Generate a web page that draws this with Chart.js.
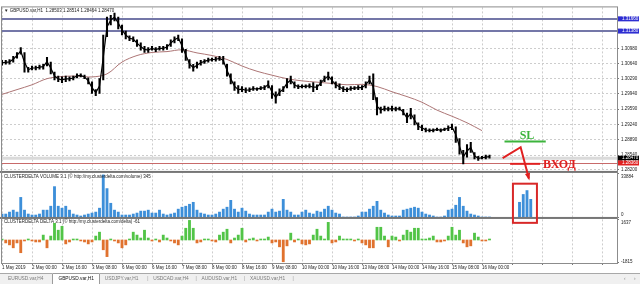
<!DOCTYPE html>
<html>
<head>
<meta charset="utf-8">
<script src="https://cdn.jsdelivr.net/npm/chart.js@4.4.1/dist/chart.umd.min.js"></script>
<style>
  html, body { margin: 0; padding: 0; background: #fff; }
  canvas { display: block; }
</style>
</head>
<body>
<canvas id="grafico" width="640" height="284"></canvas>
<script>
// ---- dados ----
const STEP_H = 2;        // horas por amostra
const MA_STEP_H = 8;     // horas por ponto da media movel
const TICK_STEP_H = 16;  // horas entre rotulos do eixo de tempo
const X_MAX_H = 328;

const tickLabels = ['1 May 2019', '2 May 00:00', '2 May 16:00', '3 May 08:00', '6 May 00:00', '6 May 16:00',
  '7 May 08:00', '8 May 00:00', '8 May 16:00', '9 May 08:00', '10 May 00:00', '10 May 16:00',
  '13 May 08:00', '14 May 00:00', '14 May 16:00', '15 May 08:00', '16 May 00:00'];

const priceTicks = [1.3098, 1.3064, 1.3029, 1.2994, 1.2959, 1.2924, 1.2889, 1.2854, 1.2820];

const priceHigh = [
  1.3071, 1.3071, 1.3073, 1.3080, 1.3089, 1.3100, 1.3089, 1.3055, 1.3058, 1.3058,
  1.3060, 1.3062, 1.3078, 1.3067, 1.3044, 1.3035, 1.3033, 1.3035, 1.3033, 1.3035,
  1.3040, 1.3040, 1.3037, 1.3031, 1.3022, 1.3004, 1.3029, 1.3129, 1.3170, 1.3174,
  1.3179, 1.3170, 1.3152, 1.3138, 1.3127, 1.3125, 1.3118, 1.3111, 1.3103, 1.3100,
  1.3103, 1.3100, 1.3103, 1.3103, 1.3107, 1.3118, 1.3125, 1.3129, 1.3120, 1.3096,
  1.3073, 1.3062, 1.3067, 1.3071, 1.3073, 1.3076, 1.3076, 1.3078, 1.3080, 1.3080,
  1.3062, 1.3040, 1.3022, 1.3013, 1.3011, 1.3008, 1.3008, 1.3011, 1.3008, 1.3011,
  1.3013, 1.3024, 1.3013, 1.2999, 1.3006, 1.3011, 1.3029, 1.3035, 1.3022, 1.3015,
  1.3015, 1.3015, 1.3017, 1.3020, 1.3015, 1.3026, 1.3035, 1.3044, 1.3033, 1.3022,
  1.3017, 1.3011, 1.3008, 1.3011, 1.3011, 1.3013, 1.3013, 1.3022, 1.3035, 1.3040,
  1.2986, 1.2964, 1.2966, 1.2964, 1.2966, 1.2964, 1.2964, 1.2959, 1.2950, 1.2961,
  1.2946, 1.2928, 1.2923, 1.2916, 1.2914, 1.2914, 1.2916, 1.2914, 1.2916, 1.2921,
  1.2925, 1.2919, 1.2892, 1.2865, 1.2878, 1.2883, 1.2860, 1.2851, 1.2851, 1.2854,
  1.2854];

const priceLow = [
  1.3060, 1.3062, 1.3062, 1.3067, 1.3076, 1.3085, 1.3044, 1.3044, 1.3049, 1.3049,
  1.3051, 1.3051, 1.3058, 1.3040, 1.3026, 1.3022, 1.3020, 1.3022, 1.3024, 1.3026,
  1.3031, 1.3033, 1.3029, 1.3017, 1.2995, 1.2990, 1.2995, 1.3026, 1.3125, 1.3152,
  1.3161, 1.3143, 1.3129, 1.3120, 1.3116, 1.3114, 1.3103, 1.3094, 1.3089, 1.3089,
  1.3094, 1.3091, 1.3094, 1.3094, 1.3096, 1.3103, 1.3111, 1.3116, 1.3089, 1.3071,
  1.3053, 1.3046, 1.3053, 1.3060, 1.3064, 1.3067, 1.3069, 1.3069, 1.3071, 1.3062,
  1.3035, 1.3017, 1.3002, 1.2995, 1.2999, 1.2997, 1.2999, 1.3002, 1.3002, 1.3004,
  1.3004, 1.3008, 1.2984, 1.2973, 1.2990, 1.2999, 1.3008, 1.3017, 1.3008, 1.3006,
  1.3008, 1.3008, 1.3008, 1.2999, 1.3004, 1.3013, 1.3022, 1.3026, 1.3017, 1.3008,
  1.3004, 1.2999, 1.2999, 1.3002, 1.3004, 1.3004, 1.3004, 1.3008, 1.3017, 1.2981,
  1.2946, 1.2950, 1.2955, 1.2955, 1.2955, 1.2955, 1.2957, 1.2946, 1.2928, 1.2937,
  1.2923, 1.2912, 1.2910, 1.2907, 1.2907, 1.2907, 1.2910, 1.2907, 1.2910, 1.2910,
  1.2912, 1.2883, 1.2856, 1.2834, 1.2849, 1.2860, 1.2845, 1.2842, 1.2845, 1.2845,
  1.2847];

const maValues = [1.2993, 1.3004, 1.3015, 1.3029, 1.3034, 1.3035, 1.3033, 1.3040, 1.3067, 1.3082,
  1.3089, 1.3091, 1.3095, 1.3088, 1.3082, 1.3073, 1.3058, 1.3046, 1.3037, 1.3029,
  1.3024, 1.3021, 1.3018, 1.3015, 1.3016, 1.3011, 1.2999, 1.2988, 1.2975, 1.2957,
  1.2943, 1.2928, 1.2910];

const volume = [
  3010, 3010, 4520, 6020, 4520, 15810, 6020, 3010, 2260, 2260,
  3010, 6020, 6020, 9040, 24100, 9040, 7530, 9040, 6020, 3010,
  2260, 1510, 2260, 3010, 3770, 4520, 7530, 33130, 22590, 11300,
  6020, 4520, 2260, 2260, 2260, 3010, 3770, 5270, 5270, 6020,
  3770, 3770, 6020, 3010, 2260, 3010, 3770, 6780, 8280, 9040,
  10540, 12050, 6020, 3770, 3010, 2260, 2260, 3010, 4520, 6780,
  8280, 13550, 6780, 4520, 7530, 5270, 3010, 2260, 2260, 2260,
  2260, 4520, 6780, 4520, 5270, 14310, 6020, 4520, 2260, 2260,
  4520, 6020, 3770, 3010, 5270, 4520, 6780, 9040, 6020, 3770,
  3010, 750, 750, 750, 750, 1510, 4520, 4520, 6780, 9040,
  12800, 6020, 3770, 2260, 1510, 1510, 1510, 6020, 6780, 7530,
  8280, 7530, 4520, 3010, 2260, 1510, 750, 750, 1510, 6020,
  6780, 9790, 15810, 9040, 5270, 3010, 2260, 1510, 750, 750,
  750, null, null, null, null, null, null, null, 12050, 18070,
  21080, 14310];

const delta = [
  80, -240, -400, -640, -240, -1040, -80, 80, -80, -160,
  -160, 400, -640, 320, 1360, 800, 1120, -320, -160, 80,
  80, -80, -160, -320, -160, 320, 640, -800, -1360, 80,
  -80, -240, -640, -400, 80, 640, 400, 160, 800, 160,
  -80, 80, -160, 400, 160, -80, -240, -400, 320, 960,
  1600, 960, -240, -160, 80, 80, -80, -160, 400, 640,
  880, -240, 160, 400, 960, -160, 80, 160, -80, 80,
  80, 240, -240, -160, -560, -1780, -480, 560, -160, 80,
  -320, -400, -320, 400, 880, 320, 80, 1440, -240, -160,
  320, 80, 80, 80, -80, 80, -240, -400, -640, -640,
  1040, 1040, 320, -560, 320, 240, -80, 400, 800, 640,
  960, 960, 80, 80, 160, 320, -160, -160, -80, 320,
  1040, 400, 800, -240, -560, -480, 560, 240, -80, -80,
  80];

const volTicks = [0, 33884];
const deltaTicks = [-1815, 0, 1637];
const hLevels = [1.3166, 1.3138];   // linhas horizontais azuis
const bidLevel = 1.2847;
const redLevel = 1.2836;

const titles = [
  '\u25BC GBPUSD.var,H1  1.28503 1.28514 1.28464 1.28470',
  'CLUSTERDELTA VOLUME 3.1 (\u00A9 http://my.clusterdelta.com/volume) 345',
  'CLUSTERDELTA DELTA 3.1 (\u00A9 http://my.clusterdelta.com/delta) -61'
];
const tabs = ['EURUSD.var,H4', 'GBPUSD.var,H1', 'USDJPY.var,H1', 'USDCAD.var,H4', 'AUDUSD.var,H1', 'XAUUSD.var,H1'];

// marcacoes desenhadas a mao no grafico (horas, preco / volume / delta)
const slMark = { level: 1.2885, from: 268, to: 290, text: 280 };
const entryMark = { level: 1.2834, from: 271, to: 287, text: 288.5 };
const arrowPath = [[267, 1.2847], [276.6, 1.2872]];
const arrowTip = [281, 30300];
const volBox = { from: 272.5, to: 285.3, top: 26350, bottom: 1400 };

// ---- montagem ----
const fontSans = '"Liberation Sans", Arial, sans-serif';
Chart.defaults.font.family = fontSans;
Chart.defaults.font.size = 4.5;
Chart.defaults.color = '#222';

const priceBars = priceHigh.map((h, i) => ({ x: i * STEP_H, y: [priceLow[i], h] }));
const priceMid = priceHigh.map((h, i) => ({ x: i * STEP_H, y: (h + priceLow[i]) / 2 }));
const maPts = maValues.map((v, i) => ({ x: i * MA_STEP_H, y: v }));
const volPts = volume.map((v, i) => ({ x: i * STEP_H, y: v })).filter(p => p.y !== null);
const deltaPts = delta.map((v, i) => ({ x: i * STEP_H, y: v }));

const mt4Decor = {
  id: 'mt4Decor',
  beforeDatasetsDraw(chart) {
    const { ctx, chartArea: a, scales: { yP } } = chart;
    const hline = (y, color, w) => {
      ctx.strokeStyle = color; ctx.lineWidth = w;
      ctx.beginPath(); ctx.moveTo(a.left, y); ctx.lineTo(a.right, y); ctx.stroke();
    };
    ctx.save();
    hline(yP.getPixelForValue(bidLevel), '#dadada', 3);
    hLevels.forEach(v => hline(Math.round(yP.getPixelForValue(v)), '#7477a8', 2));
    hline(Math.round(yP.getPixelForValue(redLevel)) + 0.5, '#c86a6a', 1);
    ctx.restore();
  },
  afterDraw(chart) {
    const { ctx, chartArea: a, scales: { x, yP, yV, yD } } = chart;
    const px = h => x.getPixelForValue(h);
    ctx.save();

    // separadores das janelas
    ctx.fillStyle = '#767676';
    ctx.fillRect(0, yP.bottom - 1, a.right, 2);
    ctx.fillRect(0, yV.bottom - 1, a.right, 2);
    ctx.strokeStyle = '#8c8c8c'; ctx.lineWidth = 1;
    ctx.strokeRect(a.left - 0.5, a.top - 0.5, a.right - a.left + 1, a.bottom - a.top + 1);

    // titulos das janelas
    ctx.font = '4.5px ' + fontSans;
    ctx.fillStyle = '#222'; ctx.textAlign = 'left'; ctx.textBaseline = 'middle';
    ctx.fillText(titles[0], a.left + 2, yP.top + 3);
    ctx.fillText(titles[1], a.left + 2, yV.top + 5);
    ctx.fillText(titles[2], a.left + 2, yD.top + 4);

    // etiquetas coloridas no eixo de precos
    const tag = (v, bg) => {
      const y = yP.getPixelForValue(v);
      ctx.fillStyle = bg; ctx.fillRect(a.right + 1, y - 2.5, 21, 5);
      ctx.fillStyle = '#fff'; ctx.fillText(v.toFixed(5), a.right + 5, y);
    };
    hLevels.forEach(v => tag(v, '#2e2ed2'));
    tag(bidLevel, '#000');
    tag(redLevel, '#e02222');

    // SL
    const slY = yP.getPixelForValue(slMark.level);
    ctx.strokeStyle = '#3cb43c'; ctx.lineWidth = 2;
    ctx.beginPath(); ctx.moveTo(px(slMark.from), slY); ctx.lineTo(px(slMark.to), slY); ctx.stroke();
    ctx.font = 'bold 12px "Liberation Serif", serif';
    ctx.fillStyle = '#3cb43c'; ctx.textAlign = 'center'; ctx.textBaseline = 'alphabetic';
    ctx.fillText('SL', px(slMark.text), slY - 3);

    // entrada
    const enY = yP.getPixelForValue(entryMark.level);
    ctx.strokeStyle = '#e02020';
    ctx.beginPath(); ctx.moveTo(px(entryMark.from), enY); ctx.lineTo(px(entryMark.to), enY); ctx.stroke();
    ctx.fillStyle = '#e02020'; ctx.textAlign = 'left'; ctx.textBaseline = 'middle';
    ctx.fillText('\u0412\u0425\u041E\u0414', px(entryMark.text), enY + 1);

    // seta em zigue-zague
    const pts = arrowPath.map(p => [px(p[0]), yP.getPixelForValue(p[1])]);
    const tip = [px(arrowTip[0]), yV.getPixelForValue(arrowTip[1])];
    ctx.lineWidth = 2;
    ctx.beginPath(); ctx.moveTo(pts[0][0], pts[0][1]); ctx.lineTo(pts[1][0], pts[1][1]); ctx.lineTo(tip[0], tip[1]); ctx.stroke();
    const ang = Math.atan2(tip[1] - pts[1][1], tip[0] - pts[1][0]);
    ctx.beginPath();
    ctx.moveTo(tip[0] + Math.cos(ang) * 2, tip[1] + Math.sin(ang) * 2);
    ctx.lineTo(tip[0] - Math.cos(ang - 0.45) * 6, tip[1] - Math.sin(ang - 0.45) * 6);
    ctx.lineTo(tip[0] - Math.cos(ang + 0.45) * 6, tip[1] - Math.sin(ang + 0.45) * 6);
    ctx.closePath(); ctx.fill();

    // caixa no volume
    ctx.strokeStyle = '#d82828'; ctx.lineWidth = 2;
    const bx0 = px(volBox.from), bx1 = px(volBox.to);
    const by0 = yV.getPixelForValue(volBox.top), by1 = yD.getPixelForValue(volBox.bottom);
    ctx.strokeRect(bx0, by0, bx1 - bx0, by1 - by0);

    // abas
    const ty = chart.height - 11;
    ctx.fillStyle = '#f0f0f0'; ctx.fillRect(0, ty, chart.width, 11);
    ctx.fillStyle = '#a8a8a8'; ctx.fillRect(0, ty, chart.width, 1);
    ctx.fillStyle = '#fff'; ctx.fillRect(52, ty, 48, 11);
    ctx.strokeStyle = '#9c9c9c'; ctx.lineWidth = 1;
    ctx.beginPath(); ctx.moveTo(52.5, chart.height); ctx.lineTo(52.5, ty + 0.5); ctx.lineTo(99.5, ty + 0.5); ctx.lineTo(99.5, chart.height); ctx.stroke();
    ctx.font = '4.8px ' + fontSans; ctx.textAlign = 'left'; ctx.textBaseline = 'middle';
    tabs.forEach((t, i) => {
      const tx = 8 + 48.4 * i + (i === 1 ? 2 : 0);
      ctx.fillStyle = i === 1 ? '#111' : '#7a7a7a';
      ctx.fillText(t, tx, ty + 6);
      if (i >= 2) { ctx.fillStyle = '#9a9a9a'; ctx.fillText('|', 8 + 48.4 * (i + 1) - 6, ty + 6); }
    });
    ctx.fillStyle = '#8a8a8a';
    ctx.fillText('\u2039', 624, ty + 6);
    ctx.fillText('\u203A', 634, ty + 6);
    ctx.restore();
  }
};

const yAxisBase = (stackWeight) => ({
  position: 'right', stack: 'panes', stackWeight,
  afterFit: s => { s.width = 23; },
  border: { color: '#8c8c8c', dash: [2, 2] }
});

new Chart(document.getElementById('grafico'), {
  type: 'bar',
  data: {
    datasets: [
      { type: 'bar', label: 'GBPUSD', data: priceBars, yAxisID: 'yP', backgroundColor: '#000', barThickness: 1.4, grouped: false },
      { type: 'line', label: 'GBPUSD mid', data: priceMid, yAxisID: 'yP', borderColor: '#000', borderWidth: 1.2, pointRadius: 0, tension: 0 },
      { type: 'line', label: 'MA', data: maPts, yAxisID: 'yP', borderColor: '#ad7676', borderWidth: 1, pointRadius: 0, tension: 0.35 },
      { type: 'bar', label: 'Volume', data: volPts, yAxisID: 'yV', backgroundColor: '#3d8fd9', barThickness: 2.2, grouped: false },
      { type: 'bar', label: 'Delta', data: deltaPts, yAxisID: 'yD', barThickness: 2.2, grouped: false,
        backgroundColor: c => (c.parsed && c.parsed.y >= 0 ? '#52c447' : '#e0722e') }
    ]
  },
  options: {
    responsive: false,
    animation: false,
    events: [],
    layout: { padding: { top: 2, left: 2, right: 0, bottom: 11 } },
    plugins: { legend: { display: false }, tooltip: { enabled: false } },
    scales: {
      x: {
        type: 'linear', min: 0, max: X_MAX_H, offset: false,
        afterFit: s => { s.height = 10; },
        afterBuildTicks: s => {
          s.ticks = [];
          for (let h = 0; h <= X_MAX_H; h += TICK_STEP_H) s.ticks.push({ value: h });
        },
        ticks: { autoSkip: false, maxRotation: 0, align: 'start', padding: 0,
          callback: v => tickLabels[v / TICK_STEP_H] || '' },
        grid: { offset: false, color: '#cdcdcd', tickLength: 2, tickColor: '#777' },
        border: { color: '#8c8c8c', dash: [2, 2] }
      },
      yP: Object.assign(yAxisBase(168), {
        min: 1.28155, max: 1.31922,
        afterBuildTicks: s => { s.ticks = priceTicks.map(v => ({ value: v })); },
        ticks: { padding: 2, callback: v => v.toFixed(5) },
        grid: { color: '#cdcdcd', tickLength: 2, tickColor: '#777' }
      }),
      yV: Object.assign(yAxisBase(47), {
        min: 0, max: 35400,
        afterBuildTicks: s => { s.ticks = volTicks.map(v => ({ value: v })); },
        ticks: { padding: 2, callback: v => (v === 0 ? ['0', ''] : ['', String(v)]) },
        grid: { drawOnChartArea: false, tickLength: 2, color: '#777' }
      }),
      yD: Object.assign(yAxisBase(46), {
        min: -1880, max: 1800,
        afterBuildTicks: s => { s.ticks = deltaTicks.map(v => ({ value: v })); },
        ticks: { padding: 2, callback: v => (v === 0 ? '0.00' : v > 0 ? ['', String(v)] : String(v)) },
        grid: { tickLength: 2, tickColor: '#777',
          color: c => (c.tick && c.tick.value === 0 ? '#666' : 'rgba(0,0,0,0)') }
      })
    }
  },
  plugins: [mt4Decor]
});
</script>
</body>
</html>
